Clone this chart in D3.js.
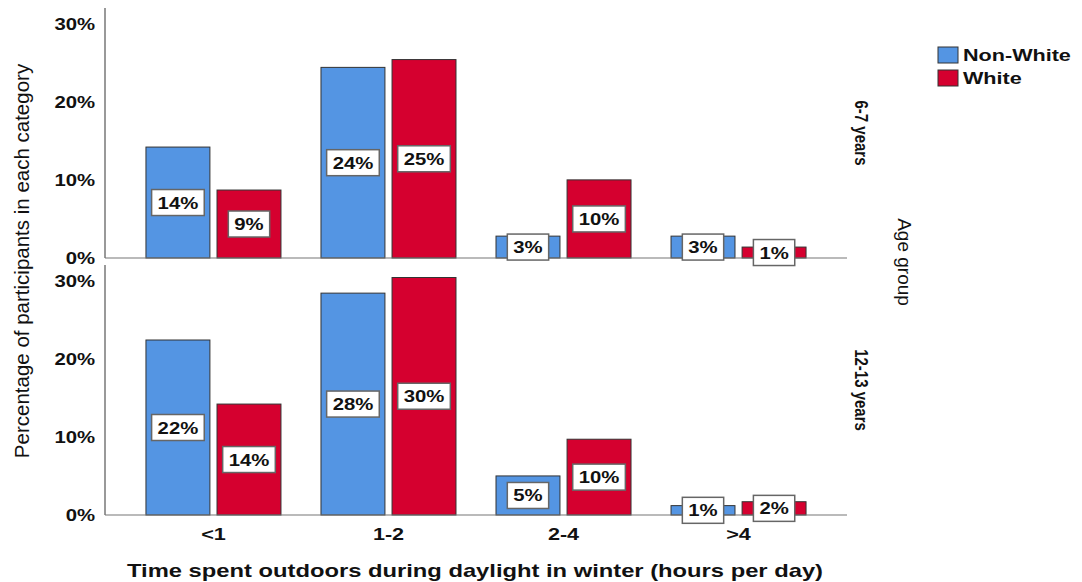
<!DOCTYPE html>
<html><head><meta charset="utf-8">
<script src="https://cdn.jsdelivr.net/npm/d3@7"></script>
<style>body{margin:0;background:#fff}</style>
</head><body>
<svg id="c" width="1082" height="582"></svg>
<script>
const categories = ["<1", "1-2", "2-4", ">4"];
const seriesNames = ["Non-White", "White"];
const panels = ["6-7 years", "12-13 years"];
// values in percent, per panel
const young_nonWhite = [14.2, 24.4, 2.8, 2.8];
const young_white    = [8.7, 25.4, 10.0, 1.4];
const older_nonWhite = [22.4, 28.4, 5.0, 1.2];
const older_white    = [14.2, 30.4, 9.7, 1.7];
const yTicks = [0, 10, 20, 30];
const colors = ["#5495e3", "#d5002f"];

const data = [
  [young_nonWhite, young_white],
  [older_nonWhite, older_white]
];

const SX = 1.27; // horizontal stretch of the reference's text
const FONT = "'Liberation Sans', Arial, sans-serif";

const svg = d3.select("#c");
const x0 = 105, x1 = 847;
const panelRanges = [[258, 8], [515, 265]];

const xBand = d3.scaleBand().domain(categories).range([x0, x1]).paddingInner(0.2286).paddingOuter(0.234);
const xSub = d3.scaleBand().domain(seriesNames).range([0, xBand.bandwidth()]).paddingInner(0.1);
const color = d3.scaleOrdinal().domain(seriesNames).range(colors);
const fmt = v => d3.format(".0f")(v) + "%";

function htext(parent, x, y, txt, font, anchor, sx) {
  return parent.append("text")
    .attr("transform", `translate(${x},${y}) scale(${sx || SX},1)`)
    .attr("text-anchor", anchor || "start")
    .style("font", font).attr("fill", "#111").text(txt);
}

panels.forEach((p, pi) => {
  const y = d3.scaleLinear().domain([0, 32]).range(panelRanges[pi]);
  const g = svg.append("g");
  g.append("line").attr("x1", x0).attr("x2", x0).attr("y1", y(32)).attr("y2", y(0))
    .attr("stroke", "#999").attr("stroke-width", 2);
  yTicks.forEach(d => {
    htext(g, 95, y(d) + 6, d + "%", `bold 16px ${FONT}`, "end");
  });
  seriesNames.forEach((s, si) => {
    const vals = data[pi][si];
    g.selectAll(".b" + si).data(vals).enter().append("rect")
      .attr("x", (d, i) => xBand(categories[i]) + xSub(s))
      .attr("y", d => y(d))
      .attr("width", xSub.bandwidth())
      .attr("height", d => y(0) - y(d))
      .attr("fill", color(s)).attr("stroke", "#333").attr("stroke-width", 1);
  });
  g.append("line").attr("x1", x0).attr("x2", x1).attr("y1", y(0)).attr("y2", y(0))
    .attr("stroke", "#777").attr("stroke-width", 1.2);
  seriesNames.forEach((s, si) => {
    const vals = data[pi][si];
    vals.forEach((v, i) => {
      const cx = xBand(categories[i]) + xSub(s) + xSub.bandwidth() / 2;
      const cy = y(v / 2);
      const lg = g.append("g");
      const t = htext(lg, cx, cy + 6, fmt(v), `bold 16px ${FONT}`, "middle");
      const w = t.node().getBBox().width * SX;
      lg.insert("rect", "text")
        .attr("x", cx - w / 2 - 6).attr("y", cy - 13)
        .attr("width", w + 12).attr("height", 26)
        .attr("fill", "#fff").attr("stroke", "#666").attr("stroke-width", 1.5);
    });
  });
  const py = (panelRanges[pi][0] + panelRanges[pi][1]) / 2;
  svg.append("text").attr("transform", `translate(855,${py}) rotate(90) scale(1,1.2)`)
    .attr("text-anchor", "middle")
    .style("font", `bold 15px ${FONT}`).attr("fill", "#111").text(p);
});

categories.forEach(d => {
  htext(svg, xBand(d) + xBand.bandwidth() / 2, 540, d, `bold 17px ${FONT}`, "middle");
});

htext(svg, 475, 577, "Time spent outdoors during daylight in winter (hours per day)", `bold 19px ${FONT}`, "middle", 1.25);
svg.append("text").attr("transform", "translate(29,261) rotate(-90)").attr("text-anchor", "middle")
  .style("font", `20.5px ${FONT}`).attr("fill", "#111")
  .text("Percentage of participants in each  category");
svg.append("text").attr("transform", "translate(898,262) rotate(90)").attr("text-anchor", "middle")
  .style("font", `19px ${FONT}`).attr("fill", "#111").text("Age group");

const leg = svg.append("g").attr("transform", "translate(938,47)");
seriesNames.forEach((s, i) => {
  leg.append("rect").attr("x", 0).attr("y", i * 23).attr("width", 20).attr("height", 16)
    .attr("fill", color(s)).attr("stroke", "#333");
  htext(leg, 25, i * 23 + 14, s, `bold 17px ${FONT}`, "start");
});
</script>
</body></html>
